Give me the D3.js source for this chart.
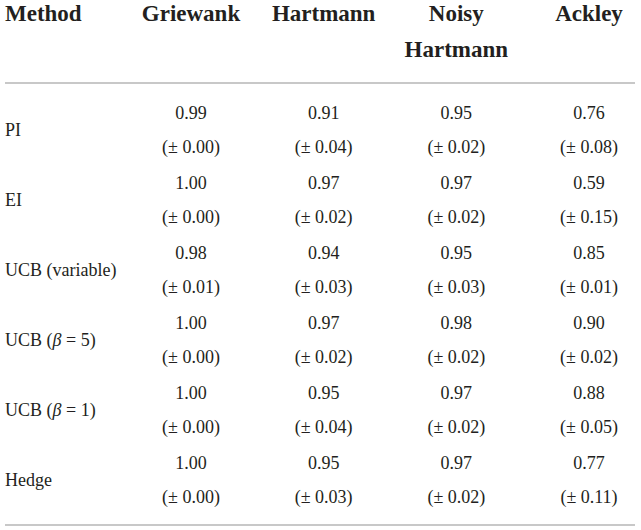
<!DOCTYPE html>
<html><head><meta charset="utf-8">
<script src="https://cdn.jsdelivr.net/npm/d3@7"></script>
<style>
@font-face { font-family: "TblSerif"; src: local("Liberation Serif"), local("LiberationSerif"), local("LiberationSerif-Regular"); font-weight: normal; font-style: normal; }
@font-face { font-family: "TblSerif"; src: local("Liberation Serif Bold"), local("LiberationSerif-Bold"); font-weight: bold; font-style: normal; }
@font-face { font-family: "TblSerif"; src: local("Liberation Serif Italic"), local("LiberationSerif-Italic"); font-weight: normal; font-style: italic; }
html,body{margin:0;padding:0;background:#fff;}
svg{display:block;}
svg text{font-family:"Liberation Serif","TblSerif","Tinos",serif !important;}
</style></head>
<body>
<script>
const columns = ["Griewank", "Hartmann", "Noisy Hartmann", "Ackley"];
const headerLines = [["Griewank"], ["Hartmann"], ["Noisy", "Hartmann"], ["Ackley"]];
const methods = ["PI", "EI", "UCB (variable)", "UCB (β = 5)", "UCB (β = 1)", "Hedge"];
const means = [
  [0.99, 0.91, 0.95, 0.76],
  [1.00, 0.97, 0.97, 0.59],
  [0.98, 0.94, 0.95, 0.85],
  [1.00, 0.97, 0.98, 0.90],
  [1.00, 0.95, 0.97, 0.88],
  [1.00, 0.95, 0.97, 0.77]
];
const errors = [
  [0.00, 0.04, 0.02, 0.08],
  [0.00, 0.02, 0.02, 0.15],
  [0.01, 0.03, 0.03, 0.01],
  [0.00, 0.02, 0.02, 0.02],
  [0.00, 0.04, 0.02, 0.05],
  [0.00, 0.03, 0.02, 0.11]
];

const INK = "#231f20";
const W = 641, H = 530;
const svg = d3.select("body").append("svg").attr("width", W).attr("height", H);

const x = d3.scalePoint().domain(columns).range([191, 589]);
const y = d3.scaleBand().domain(methods).range([95, 515]);
const fmt = d3.format(".2f");

function txt(xp, yp, size, anchor) {
  return svg.append("text").attr("x", xp).attr("y", yp)
    .attr("text-anchor", anchor || "start")
    .attr("font-family", "Liberation Serif, serif")
    .attr("font-size", size).attr("fill", INK);
}

// header
txt(5, 21, 23).attr("font-weight", "bold").text("Method");
columns.forEach((c, j) => {
  headerLines[j].forEach((ln, k) => {
    txt(x(c), 21 + k * 36, 23, "middle").attr("font-weight", "bold").text(ln);
  });
});

// rules
[83, 525].forEach(yy => {
  svg.append("line").attr("x1", 5).attr("x2", 635).attr("y1", yy).attr("y2", yy)
    .attr("stroke", "#c8c8c8").attr("stroke-width", 2);
});

// rows
methods.forEach((m, i) => {
  const mid = y(m) + y.bandwidth() / 2;
  const lab = txt(5, mid + 6, 18);
  const mm = m.match(/^(.*\()β( = \d\))$/);
  if (mm) {
    lab.append("tspan").text(mm[1]);
    lab.append("tspan").attr("font-style", "italic").text("β");
    lab.append("tspan").text(mm[2]);
  } else lab.text(m);
  columns.forEach((c, j) => {
    txt(x(c), mid - 11, 18, "middle").text(fmt(means[i][j]));
    txt(x(c), mid + 23, 18, "middle").text("(± " + fmt(errors[i][j]) + ")");
  });
});
</script>
</body></html>
